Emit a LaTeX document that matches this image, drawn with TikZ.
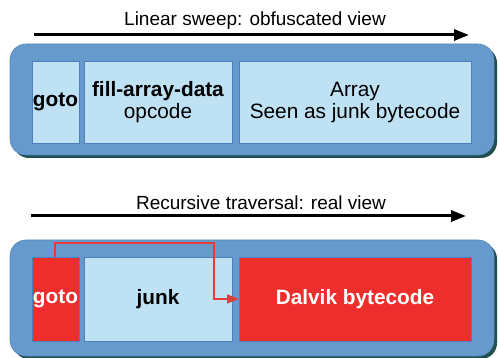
\documentclass[tikz,border=0pt]{standalone}
\usepackage{fontspec}
\setmainfont{Liberation Sans}
\usetikzlibrary{arrows.meta}
\definecolor{outerblue}{HTML}{6699CC}
\definecolor{outerline}{HTML}{5A8AC0}
\definecolor{shadowc}{HTML}{1F4F4F}
\definecolor{innerblue}{HTML}{BFE1F4}
\definecolor{innerline}{HTML}{4F7FBF}
\definecolor{redbox}{HTML}{EE2D2D}
\definecolor{redline}{HTML}{E83A3A}
\tikzset{
  outerbox/.style={fill=outerblue, draw=outerline, line width=0.6pt, rounded corners=16pt},
  shadowbox/.style={fill=shadowc, rounded corners=16pt},
  cell/.style={fill=innerblue, draw=innerline, line width=0.8pt, inner sep=0pt},
  redcell/.style={fill=redbox, draw=innerline, line width=0.8pt, inner sep=0pt},
  celltext/.style={font=\fontsize{20.8}{25}\selectfont, align=center},
  titletext/.style={font=\fontsize{19}{23}\selectfont},
  sweep/.style={line width=3pt, -{Triangle[length=15pt,width=11pt]}},
  jump/.style={draw=redline, line width=1.5pt, -{Triangle[length=12pt,width=9pt]}}
}
\begin{document}
\begin{tikzpicture}[x=1pt,y=-1pt]
\useasboundingbox (0,0) rectangle (498,358);
% ---------- top ----------
\node[titletext] (t1) at (255,21) {Linear sweep: obfuscated view};
\coordinate (a1s) at (34,35);
\coordinate (a1e) at (469,35);
\draw[sweep] (a1s) -- (a1e);
\fill[shadowbox] (13,47) rectangle (497,158);
\draw[outerbox] (10,44) rectangle (494,155);
\draw[cell] (32,61) rectangle (79,143);
\node[celltext] (g1) at (55.5,102) {\textbf{goto}};
\draw[cell] (84,61) rectangle (232,143);
\node[celltext] (f1) at (158,102) {\textbf{fill-array-data}\\[-3pt]opcode};
\draw[cell] (239,61) rectangle (471,143);
\node[celltext] (a1) at (355,103) {Array\\[-3pt]Seen as junk bytecode};
% ---------- bottom ----------
\node[titletext] (t2) at (261,203) {Recursive traversal: real view};
\coordinate (a2s) at (31,216);
\coordinate (a2e) at (466,216);
\draw[sweep] (a2s) -- (a2e);
\fill[shadowbox] (13,243) rectangle (497,359);
\draw[outerbox] (10,240) rectangle (494,356);
\draw[redcell] (32,257) rectangle (79,341);
\node[celltext, text=white] (g2) at (55.5,299) {\textbf{goto}};
\draw[cell] (84,257) rectangle (232,341);
\node[celltext] (j2) at (158,299) {\textbf{junk}};
\draw[redcell] (239,257) rectangle (471,341);
\node[celltext, text=white] (d2) at (355,299) {\textbf{Dalvik bytecode}};
\coordinate (gtop) at (55,257);
\coordinate (dleft) at (239,299);
\draw[jump] (gtop) -- (55,243) -- (214,243) -- (214,299) -- (dleft);
\end{tikzpicture}
\end{document}
